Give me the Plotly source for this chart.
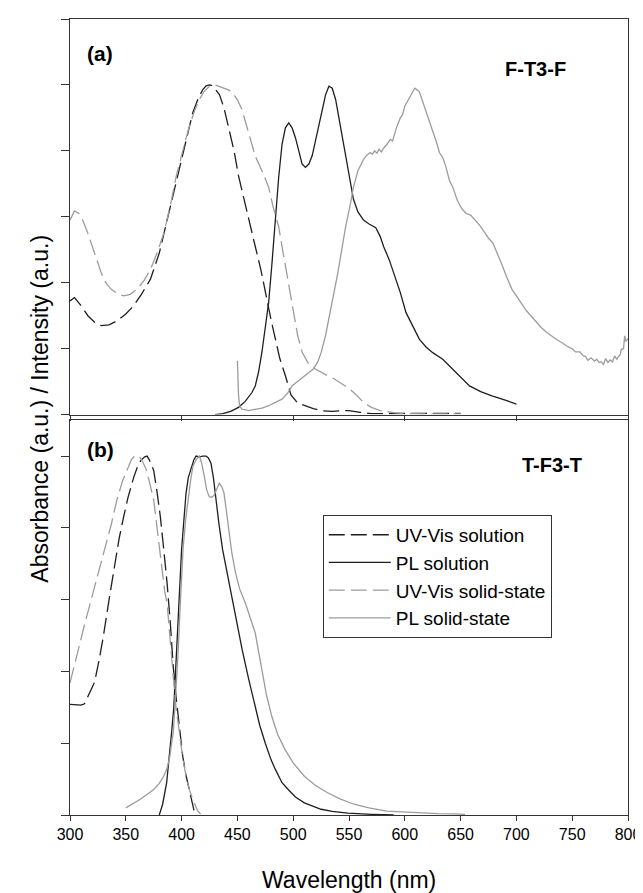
import plotly.graph_objects as go

# ---------------- Data: panel (a) F-T3-F ----------------
uv_sol_a_x = [300, 304, 310, 316, 322, 328, 335, 342, 350, 357, 364, 372, 380, 387, 393, 398, 404, 410, 415, 419, 422, 425, 428, 431, 434, 438, 442, 447, 451, 456, 461, 466, 471, 475, 480, 484, 488, 493, 498, 504, 510, 518, 525, 535, 545, 550, 560, 570, 585, 600, 620, 650]
uv_sol_a_y = [0.345, 0.355, 0.33, 0.30, 0.28, 0.27, 0.272, 0.284, 0.305, 0.33, 0.365, 0.41, 0.49, 0.59, 0.67, 0.744, 0.83, 0.916, 0.96, 0.986, 0.997, 1.0, 0.997, 0.985, 0.97, 0.93, 0.875, 0.80, 0.724, 0.65, 0.58, 0.51, 0.44, 0.37, 0.29, 0.23, 0.17, 0.118, 0.06, 0.035, 0.027, 0.018, 0.012, 0.01, 0.012, 0.012, 0.007, 0.003, 0.003, 0.004, 0.004, 0.004]

uv_ss_a_x = [300, 304, 308, 312, 316, 320, 324, 328, 332, 337, 342, 348, 354, 360, 366, 372, 378, 384, 390, 395, 401, 407, 412, 416, 420, 425, 430, 437, 442, 446, 450, 454, 458, 463, 466, 472, 478, 482, 487, 491, 495, 500, 504, 508, 513, 519, 525, 531, 537, 544, 551, 557, 563, 570, 578, 590, 600, 620, 650]
uv_ss_a_y = [0.59, 0.618, 0.61, 0.585, 0.55, 0.51, 0.47, 0.43, 0.40, 0.38, 0.368, 0.36, 0.365, 0.38, 0.405, 0.44, 0.49, 0.55, 0.635, 0.72, 0.80, 0.875, 0.925, 0.956, 0.98, 0.996, 1.0, 0.99, 0.985, 0.975, 0.955, 0.926, 0.88, 0.825, 0.784, 0.74, 0.69, 0.63, 0.57, 0.49, 0.41, 0.32, 0.24, 0.19, 0.158, 0.14, 0.128, 0.118, 0.108, 0.093, 0.077, 0.058, 0.037, 0.022, 0.012, 0.006, 0.003, 0.002, 0.002]

pl_sol_a_x = [430, 437, 444, 451, 457, 463, 466, 469, 472, 475, 478, 481, 484, 487, 490, 493, 496, 499, 502, 505, 508, 511, 514, 517, 521, 525, 529, 532, 535, 538, 542, 546, 550, 554, 558, 563, 568, 574, 578, 581, 586, 590, 596, 601, 607, 613, 619, 625, 634, 640, 646, 652, 658, 668, 678, 690, 700]
pl_sol_a_y = [0.0, 0.003, 0.01, 0.022, 0.04, 0.067, 0.087, 0.13, 0.19, 0.26, 0.34, 0.46, 0.59, 0.72, 0.82, 0.87, 0.885, 0.87, 0.84, 0.80, 0.76, 0.75, 0.76, 0.785, 0.85, 0.916, 0.97, 0.996, 0.99, 0.956, 0.88, 0.795, 0.72, 0.653, 0.615, 0.59, 0.578, 0.567, 0.54, 0.51, 0.47, 0.43, 0.37, 0.31, 0.27, 0.229, 0.205, 0.188, 0.168, 0.148, 0.128, 0.105, 0.087, 0.07, 0.057, 0.044, 0.032]

pl_ss_a_x = [450, 451, 452, 454, 460, 466, 472, 478, 484, 490, 495, 499, 503, 507, 512, 518, 522, 525, 529, 532, 536, 540, 544, 547, 551, 554, 558, 563, 566, 569, 571, 573, 575, 577, 579, 581, 584, 587, 589, 591, 593, 596, 598, 600, 603, 606, 609, 611, 613, 616, 619, 622, 626, 629, 631, 634, 637, 640, 643, 647, 651, 655, 659, 663, 667, 671, 675, 679, 683, 687, 691, 696, 700, 705, 709, 713, 718, 722, 727, 731, 736, 741, 746, 750, 753, 757, 760, 762, 764, 767, 770, 772, 774, 776, 778, 780, 782, 784, 786, 788, 790, 791, 793, 794, 796, 797, 798, 800]
pl_ss_a_y = [0.163, 0.06, 0.027, 0.017, 0.012, 0.015, 0.02, 0.027, 0.036, 0.047, 0.065, 0.087, 0.098, 0.108, 0.122, 0.138, 0.16, 0.188, 0.24, 0.29, 0.36, 0.43, 0.51, 0.57, 0.635, 0.69, 0.74, 0.774, 0.787, 0.795, 0.79, 0.80, 0.793, 0.805, 0.797, 0.808, 0.82, 0.835, 0.83, 0.855, 0.875, 0.9, 0.91, 0.936, 0.955, 0.975, 0.99, 0.985, 0.98, 0.95, 0.92, 0.895, 0.85, 0.82, 0.795, 0.78, 0.75, 0.71, 0.69, 0.65, 0.625, 0.61, 0.605, 0.59, 0.575, 0.555, 0.535, 0.52, 0.49, 0.455, 0.42, 0.38, 0.36, 0.335, 0.315, 0.30, 0.28, 0.265, 0.25, 0.239, 0.228, 0.218, 0.206, 0.2, 0.19, 0.19, 0.178, 0.176, 0.165, 0.172, 0.162, 0.168, 0.158, 0.16, 0.152, 0.17, 0.158, 0.166, 0.16, 0.178, 0.168, 0.174, 0.182, 0.198, 0.2, 0.239, 0.222, 0.23]

# ---------------- Data: panel (b) T-F3-T ----------------
uv_sol_b_x = [300, 305, 310, 313, 316, 319, 322, 326, 330, 335, 340, 344, 348, 352, 357, 361, 364, 367, 369, 371, 373, 375, 378, 381, 384, 387, 390, 392.5, 395, 397, 399, 401, 404, 407, 409, 411.6, 413]
uv_sol_b_y = [0.308, 0.308, 0.306, 0.31, 0.33, 0.35, 0.37, 0.43, 0.50, 0.60, 0.70, 0.77, 0.83, 0.885, 0.94, 0.975, 0.99, 0.998, 1.0, 0.99, 0.975, 0.96, 0.90, 0.83, 0.74, 0.646, 0.53, 0.414, 0.33, 0.275, 0.22, 0.164, 0.11, 0.071, 0.04, 0.006, 0.0]

uv_ss_b_x = [300, 304, 307, 313, 319, 325, 331, 337, 342, 347, 351, 355, 358, 362, 365, 368, 371, 375, 378, 382, 385, 387, 390, 392.5, 395, 398, 401, 404, 407, 410, 412, 414.5, 417]
uv_ss_b_y = [0.368, 0.42, 0.46, 0.53, 0.60, 0.67, 0.74, 0.81, 0.878, 0.93, 0.96, 0.99, 1.0, 1.0, 0.985, 0.965, 0.93, 0.878, 0.80, 0.69, 0.62, 0.59, 0.49, 0.387, 0.30, 0.229, 0.16, 0.108, 0.07, 0.044, 0.03, 0.011, 0.003]

pl_sol_b_x = [380, 383, 386.6, 389, 391, 393, 394, 395.5, 397, 398.5, 400, 402, 404, 406, 408.7, 411, 413, 416, 419, 422, 424, 426.3, 428.5, 430.7, 433.5, 436.7, 441, 445.5, 450, 454.3, 460, 466, 470, 475, 480, 484, 490, 495.5, 502, 510, 518, 525, 535, 549, 570, 590]
pl_sol_b_y = [0.0, 0.03, 0.09, 0.16, 0.229, 0.30, 0.368, 0.46, 0.553, 0.65, 0.74, 0.82, 0.897, 0.94, 0.97, 0.99, 1.0, 0.998, 1.0, 1.0, 0.995, 0.98, 0.94, 0.878, 0.81, 0.74, 0.67, 0.60, 0.53, 0.46, 0.38, 0.303, 0.25, 0.20, 0.155, 0.127, 0.09, 0.071, 0.05, 0.034, 0.024, 0.016, 0.01, 0.005, 0.002, 0.0]

pl_ss_b_x = [350, 356, 363, 369, 375, 380, 384, 387, 389.5, 391, 392.5, 394, 395.4, 397, 398.3, 400, 401.3, 403.5, 405.7, 408, 410, 413, 416, 418, 420.4, 422.5, 424.8, 427, 429, 431.5, 433.7, 436, 438, 440, 442.5, 445, 448.4, 452, 457.2, 461, 466, 469, 472, 476, 480.8, 486, 492.6, 500, 510, 520, 530.8, 542, 554.4, 568, 583.8, 600, 613, 630, 645, 654]
pl_ss_b_y = [0.02, 0.03, 0.044, 0.057, 0.071, 0.088, 0.108, 0.13, 0.164, 0.2, 0.229, 0.30, 0.368, 0.46, 0.553, 0.65, 0.74, 0.82, 0.878, 0.93, 0.97, 0.99, 1.0, 0.98, 0.943, 0.905, 0.887, 0.885, 0.89, 0.91, 0.924, 0.915, 0.897, 0.85, 0.785, 0.73, 0.674, 0.63, 0.59, 0.555, 0.507, 0.455, 0.405, 0.335, 0.275, 0.225, 0.183, 0.145, 0.108, 0.082, 0.062, 0.045, 0.03, 0.02, 0.011, 0.008, 0.006, 0.004, 0.003, 0.002]

series_names = ["UV-Vis solution", "PL solution", "UV-Vis solid-state", "PL solid-state"]
x_ticks = [300, 350, 400, 450, 500, 550, 600, 650, 700, 750, 800]

DARK = "#1e1e1e"
GRAY = "#9c9c9c"
DASH = "16px,6px"
FONT = "Arial, 'Liberation Sans', Helvetica, sans-serif"

styles = [
    dict(color=DARK, width=1.3, dash=DASH),
    dict(color=DARK, width=1.3),
    dict(color=GRAY, width=1.3, dash=DASH),
    dict(color=GRAY, width=1.3),
]

fig = go.Figure()

panel_a = [(uv_sol_a_x, uv_sol_a_y), (pl_sol_a_x, pl_sol_a_y), (uv_ss_a_x, uv_ss_a_y), (pl_ss_a_x, pl_ss_a_y)]
panel_b = [(uv_sol_b_x, uv_sol_b_y), (pl_sol_b_x, pl_sol_b_y), (uv_ss_b_x, uv_ss_b_y), (pl_ss_b_x, pl_ss_b_y)]

for (xs, ys), name, st in zip(panel_a, series_names, styles):
    fig.add_trace(go.Scatter(x=xs, y=ys, mode="lines", name=name, line=st,
                             xaxis="x2", yaxis="y2", showlegend=False))
for (xs, ys), name, st in zip(panel_b, series_names, styles):
    fig.add_trace(go.Scatter(x=xs, y=ys, mode="lines", name=name, line=st,
                             xaxis="x", yaxis="y", showlegend=True))

axis_common = dict(showline=True, linecolor="#333", linewidth=1, mirror=True,
                   showgrid=False, zeroline=False, ticks="outside",
                   tickcolor="#333", tickwidth=1)

fig.update_layout(
    width=643, height=893,
    margin=dict(l=62, r=15, t=10, b=86),
    paper_bgcolor="white", plot_bgcolor="white",
    font=dict(family=FONT, color="black"),
    xaxis=dict(domain=[0, 1], anchor="y", range=[300, 800], tickvals=x_ticks,
               ticklen=5, tickfont=dict(size=16, family=FONT, color="black"), **axis_common),
    yaxis=dict(domain=[0, 0.496], anchor="x", range=[0, 1.1], tick0=0, dtick=0.2,
               ticklen=8, showticklabels=False, **axis_common),
    xaxis2=dict(domain=[0, 1], anchor="y2", range=[300, 800], tick0=300, dtick=100,
                ticklen=5, showticklabels=False, **axis_common),
    yaxis2=dict(domain=[0.503, 1], anchor="x2", range=[0, 1.2], tick0=0, dtick=0.2,
                ticklen=8, showticklabels=False, **axis_common),
    legend=dict(x=0.453, y=0.377, xanchor="left", yanchor="top",
                bgcolor="white", bordercolor="#333", borderwidth=1,
                font=dict(size=19, family=FONT, color="black"),
                itemwidth=62, tracegroupgap=0,
                entrywidth=245, entrywidthmode="pixels"),
    showlegend=True,
)

ann = [
    dict(text="<b>(a)</b>", x=0.026, y=0.957, xanchor="left", yanchor="middle", font=dict(size=21)),
    dict(text="<b>(b)</b>", x=0.026, y=0.459, xanchor="left", yanchor="middle", font=dict(size=21)),
    dict(text="<b>F-T3-F</b>", x=0.834, y=0.937, xanchor="center", yanchor="middle", font=dict(size=20)),
    dict(text="<b>T-F3-T</b>", x=0.864, y=0.44, xanchor="center", yanchor="middle", font=dict(size=20)),
    dict(text="Wavelength (nm)", x=0.5, y=-0.0815, xanchor="center", yanchor="middle", font=dict(size=23)),
    dict(text="Absorbance (a.u.) / Intensity (a.u.)", x=-0.053, y=0.511, xanchor="center",
         yanchor="middle", textangle=-90, font=dict(size=23)),
]
for a in ann:
    a.update(xref="paper", yref="paper", showarrow=False)
    a["font"].update(family=FONT, color="black")
fig.update_layout(annotations=ann)

fig.write_html("out.html")
